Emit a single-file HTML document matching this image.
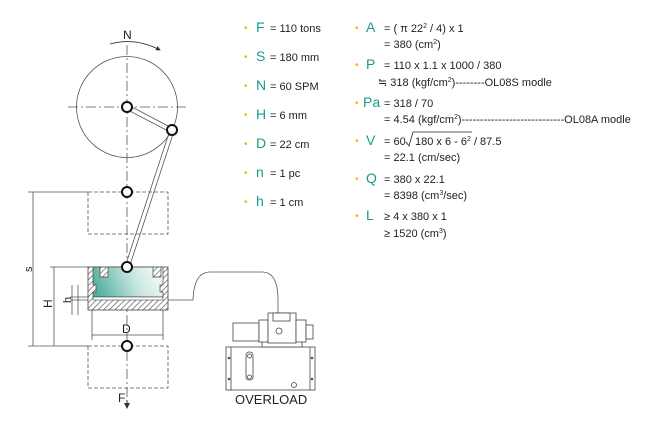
<!DOCTYPE html>
<html><head><style>
body{margin:0;background:#fff;}
svg text{font-family:"Liberation Sans",sans-serif;}
.t{font-size:11px;fill:#222;}
.L{font-size:14px;fill:#1a9a8a;}
.b{fill:#f5b800;font-size:10px;}
</style></head><body>
<svg width="650" height="418" viewBox="0 0 650 418" xmlns="http://www.w3.org/2000/svg">
<defs>
<pattern id="hat" width="4" height="4" patternUnits="userSpaceOnUse" patternTransform="rotate(45)">
<rect width="4" height="4" fill="#fff"/><line x1="0" y1="0" x2="0" y2="4" stroke="#444" stroke-width="1.2"/></pattern>
<linearGradient id="tg" x1="0" x2="1" y1="0.6" y2="0.4"><stop offset="0" stop-color="#4fae9e"/><stop offset="0.6" stop-color="#c6e6df"/><stop offset="1" stop-color="#f4faf8"/></linearGradient>
<marker id="ar" markerWidth="6" markerHeight="6" refX="5" refY="3" orient="auto"><path d="M0,0 L6,3 L0,6 z" fill="#333"/></marker>
</defs>
<g stroke="#555" fill="none" stroke-width="0.8">
<!-- center lines -->
<line x1="127" y1="45" x2="127" y2="408" stroke-dasharray="10,3,2,3"/>
<line x1="68" y1="107" x2="187" y2="107" stroke-dasharray="10,3,2,3"/>
<circle cx="127" cy="107" r="50.5"/>
<path d="M110,44 Q135,37 160,50" marker-end="url(#ar)" stroke="#333"/>
<!-- dashed rects -->
<rect x="88" y="192" width="80" height="42" stroke-dasharray="4,2"/>
<rect x="88" y="346" width="80" height="42" stroke-dasharray="4,2"/>
<!-- dims -->
<line x1="28" y1="192" x2="88" y2="192"/>
<line x1="28" y1="346" x2="88" y2="346"/>
<line x1="33" y1="192" x2="33" y2="346"/>
<line x1="50" y1="267" x2="88" y2="267"/>
<line x1="54" y1="267" x2="54" y2="346"/>
<line x1="72" y1="285" x2="72" y2="315"/>
<line x1="78" y1="285" x2="78" y2="315"/>
<line x1="70" y1="297" x2="92" y2="297"/>
<line x1="70" y1="300" x2="92" y2="300"/>
<line x1="92" y1="310" x2="92" y2="340"/>
<line x1="163" y1="310" x2="163" y2="340"/>
<line x1="92" y1="335" x2="163" y2="335"/>
<!-- rods -->
<line x1="128" y1="105" x2="172" y2="128"/>
<line x1="126" y1="109" x2="170" y2="132"/>
<line x1="170" y1="130" x2="125" y2="267"/>
<line x1="174" y1="131" x2="129" y2="268"/>
<!-- pipe -->
<path d="M168,300 L193,300 Q194,272 210,272 L262,272 Q278,272 278,300 L278,318"/>
</g>
<!-- die -->
<rect x="88" y="267" width="80" height="43" fill="url(#hat)" stroke="#444" stroke-width="0.8"/>
<path d="M93,267 L100,267 L100,277 L108,277 L108,267 L153,267 L153,277 L161,277 L161,267 L163,267 L163,285 L160,285 L160,292 L163,292 L163,297 L93,297 L93,292 L96,292 L96,285 L93,285 Z" fill="url(#tg)" stroke="#444" stroke-width="0.7"/>
<rect x="93" y="297" width="70" height="3" fill="#fff" stroke="#444" stroke-width="0.6"/>
<g fill="#fff" stroke="#111" stroke-width="2">
<circle cx="127" cy="107" r="5"/><circle cx="172" cy="130" r="5"/><circle cx="127" cy="192" r="5"/><circle cx="127" cy="267" r="5"/><circle cx="127" cy="346" r="5"/>
</g>
<line x1="127" y1="400" x2="127" y2="408" stroke="#333" marker-end="url(#ar)"/>
<!-- overload unit -->
<g stroke="#444" fill="#fff" stroke-width="0.8">
<rect x="226" y="347" width="89" height="43"/>
<line x1="231" y1="347" x2="231" y2="390"/><line x1="310" y1="347" x2="310" y2="390"/>
<rect x="246" y="352" width="7" height="28" rx="3"/>
<circle cx="249.5" cy="356" r="2"/><circle cx="249.5" cy="377" r="2"/>
<circle cx="294" cy="385" r="2.5"/>
<rect x="262" y="341" width="40" height="6"/>
<rect x="233" y="323" width="26" height="18"/>
<rect x="259" y="320" width="9" height="22"/>
<rect x="268" y="313" width="28" height="30"/>
<rect x="273" y="313" width="17" height="8"/>
<rect x="296" y="320" width="10" height="22"/>
<rect x="306" y="325" width="7" height="14"/>
<circle cx="279" cy="331" r="3"/>
</g>
<g fill="#555"><circle cx="229" cy="358" r="1.3"/><circle cx="229" cy="379" r="1.3"/><circle cx="312" cy="358" r="1.3"/><circle cx="312" cy="379" r="1.3"/></g>
<!-- labels -->
<g font-size="12" fill="#222">
<text x="123" y="39" font-size="12">N</text>
<text x="32" y="272" transform="rotate(-90 32 272)" font-size="11">s</text>
<text x="52" y="308" transform="rotate(-90 52 308)" font-size="12">H</text>
<text x="71" y="303" transform="rotate(-90 71 303)" font-size="11">h</text>
<text x="122" y="333" font-size="12">D</text>
<text x="118" y="402" font-size="12">F</text>
<text x="235" y="404" font-size="13">OVERLOAD</text>
</g>
<!-- left params -->
<g>
<text class="b" x="244" y="31">•</text><text class="L" x="256" y="32">F</text><text class="t" x="270" y="32">= 110 tons</text>
<text class="b" x="244" y="60">•</text><text class="L" x="256" y="61">S</text><text class="t" x="270" y="61">= 180 mm</text>
<text class="b" x="244" y="89">•</text><text class="L" x="256" y="90">N</text><text class="t" x="270" y="90">= 60 SPM</text>
<text class="b" x="244" y="118">•</text><text class="L" x="256" y="119">H</text><text class="t" x="270" y="119">= 6 mm</text>
<text class="b" x="244" y="147">•</text><text class="L" x="256" y="148">D</text><text class="t" x="270" y="148">= 22 cm</text>
<text class="b" x="244" y="176">•</text><text class="L" x="256" y="177">n</text><text class="t" x="270" y="177">= 1 pc</text>
<text class="b" x="244" y="205">•</text><text class="L" x="256" y="206">h</text><text class="t" x="270" y="206">= 1 cm</text>
</g>
<!-- right formulas -->
<g>
<text class="b" x="355" y="31">•</text><text class="L" x="366" y="32">A</text><text class="t" x="384" y="32">= ( π 22<tspan font-size="7" dy="-4">2</tspan><tspan dy="4"> / 4) x 1</tspan></text>
<text class="t" x="384" y="48">= 380 (cm<tspan font-size="7" dy="-4">2</tspan><tspan dy="4">)</tspan></text>
<text class="b" x="355" y="68">•</text><text class="L" x="366" y="69">P</text><text class="t" x="384" y="69">= 110 x 1.1 x 1000 / 380</text>
<text class="t" x="378" y="86">≒ 318 (kgf/cm<tspan font-size="7" dy="-4">2</tspan><tspan dy="4">)--------OL08S  modle</tspan></text>
<text class="b" x="355" y="106">•</text><text class="L" x="363" y="107">Pa</text><text class="t" x="384" y="107">= 318 / 70</text>
<text class="t" x="384" y="123">= 4.54 (kgf/cm<tspan font-size="7" dy="-4">2</tspan><tspan dy="4">)----------------------------OL08A  modle</tspan></text>
<text class="b" x="355" y="144">•</text><text class="L" x="366" y="145">V</text><text class="t" x="384" y="145">= 60</text>
<path d="M406,142 L409,146 L413,132 L472,132" stroke="#222" fill="none" stroke-width="0.8"/>
<text class="t" x="415" y="145">180 x 6 - 6<tspan font-size="7" dy="-4">2</tspan><tspan dy="4"> / 87.5</tspan></text>
<text class="t" x="384" y="161">= 22.1 (cm/sec)</text>
<text class="b" x="355" y="182">•</text><text class="L" x="366" y="183">Q</text><text class="t" x="384" y="183">= 380 x 22.1</text>
<text class="t" x="384" y="199">= 8398 (cm<tspan font-size="7" dy="-4">3</tspan><tspan dy="4">/sec)</tspan></text>
<text class="b" x="355" y="219">•</text><text class="L" x="366" y="220">L</text><text class="t" x="384" y="220">≥ 4 x 380 x 1</text>
<text class="t" x="384" y="237">≥ 1520 (cm<tspan font-size="7" dy="-4">3</tspan><tspan dy="4">)</tspan></text>
</g>
</svg>
</body></html>
